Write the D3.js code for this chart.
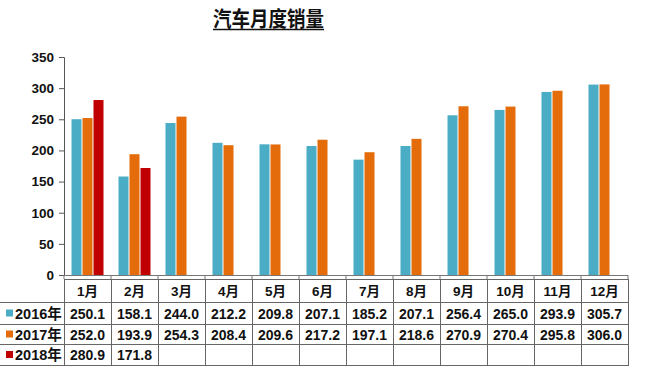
<!DOCTYPE html>
<html><head><meta charset="utf-8">
<script src="https://cdn.jsdelivr.net/npm/d3@7"></script>
<style>body{margin:0;background:#fff}svg{display:block}</style>
</head><body>
<script>
const months = ["1月","2月","3月","4月","5月","6月","7月","8月","9月","10月","11月","12月"];
const seriesNames = ["2016年","2017年","2018年"];
const colors = ["#4BACC6","#E46C0A","#C00000"];
const s2016 = [250.1,158.1,244.0,212.2,209.8,207.1,185.2,207.1,256.4,265.0,293.9,305.7];
const s2017 = [252.0,193.9,254.3,208.4,209.6,217.2,197.1,218.6,270.9,270.4,295.8,306.0];
const s2018 = [280.9,171.8];
const yTicks = [0,50,100,150,200,250,300,350];
const title = "汽车月度销量";

const W=645,H=375;
const svg=d3.select("body").append("svg").attr("width",W).attr("height",H);
const font="'Liberation Sans', Arial, 'Noto Sans CJK SC', sans-serif";
const pL=64,pR=628,pT=57,pB=275;
const x=d3.scaleBand().domain(months).range([pL,pR]).paddingInner(0).paddingOuter(0);
const y=d3.scaleLinear().domain([0,350]).range([pB,pT]);
const slot=d3.scaleBand().domain([0,1,2]).range([0,33]);
const series=[s2016,s2017,s2018];

// title
svg.append("text").attr("x",213).attr("y",26)
  .attr("font-family","'Noto Sans CJK SC', sans-serif").attr("font-weight","bold").attr("font-size",21)
  .attr("textLength",111).attr("lengthAdjust","spacingAndGlyphs")
  .attr("fill","#111").text(title);
svg.append("line").attr("x1",213).attr("x2",324).attr("y1",29.5).attr("y2",29.5).attr("stroke","#111").attr("stroke-width",1.5);

// bars
series.forEach((arr,si)=>{
  svg.append("g").selectAll("rect").data(arr).join("rect")
    .attr("x",(d,i)=>x(months[i])+7+slot(si)+0.5)
    .attr("width",slot.bandwidth()-1)
    .attr("y",d=>y(d)).attr("height",d=>pB-y(d))
    .attr("fill",colors[si]);
});

// y axis
const ya=svg.append("g").attr("transform",`translate(${pL},0)`)
  .call(d3.axisLeft(y).tickValues(yTicks).tickSize(5).tickPadding(5));
ya.select(".domain").attr("stroke","#555");
ya.selectAll(".tick line").attr("stroke","#555");
ya.selectAll("text").attr("font-family",font).attr("font-weight","bold").attr("font-size",13.5).attr("fill","#111");

// x axis line
svg.append("line").attr("x1",pL).attr("x2",pR).attr("y1",pB+0.5).attr("y2",pB+0.5).attr("stroke","#777");
svg.append("g").selectAll("line").data(months.concat(["end"])).join("line")
  .attr("x1",(d,i)=>pL+i*x.bandwidth()).attr("x2",(d,i)=>pL+i*x.bandwidth())
  .attr("y1",pB).attr("y2",pB+4).attr("stroke","#777");

// table
const rowsY=[279,302,324,344,365];
const tg=svg.append("g").attr("stroke","#666").attr("stroke-width",1);
tg.append("line").attr("x1",pL).attr("x2",pR).attr("y1",rowsY[0]+0.5).attr("y2",rowsY[0]+0.5);
rowsY.slice(1).forEach(r=>tg.append("line").attr("x1",0).attr("x2",pR).attr("y1",r+0.5).attr("y2",r+0.5));
d3.range(13).forEach(i=>{
  const xx=Math.round(pL+i*x.bandwidth())+0.5;
  tg.append("line").attr("x1",xx).attr("x2",xx).attr("y1",rowsY[0]).attr("y2",rowsY[4]+1);
});
// header
svg.append("g").selectAll("text").data(months).join("text")
  .attr("x",d=>x(d)+x.bandwidth()/2).attr("y",(rowsY[0]+rowsY[1])/2+5)
  .attr("text-anchor","middle").attr("font-family",font).attr("font-weight","bold").attr("font-size",13.5)
  .attr("fill","#111").text(d=>d);
// rows
series.forEach((arr,si)=>{
  const cy=(rowsY[si+1]+rowsY[si+2])/2;
  svg.append("rect").attr("x",6).attr("y",cy-3.5).attr("width",7).attr("height",7).attr("fill",colors[si]);
  svg.append("text").attr("x",15).attr("y",cy+5.5).attr("font-family",font).attr("font-weight","bold")
    .attr("font-size",14.5).attr("fill","#111").text(seriesNames[si]);
  svg.append("g").selectAll("text").data(arr).join("text")
    .attr("x",(d,i)=>x(months[i])+x.bandwidth()/2).attr("y",cy+5.5)
    .attr("text-anchor","middle").attr("font-family",font).attr("font-weight","bold").attr("font-size",14)
    .attr("fill","#111").text(d=>d.toFixed(1));
});
</script>
</body></html>
